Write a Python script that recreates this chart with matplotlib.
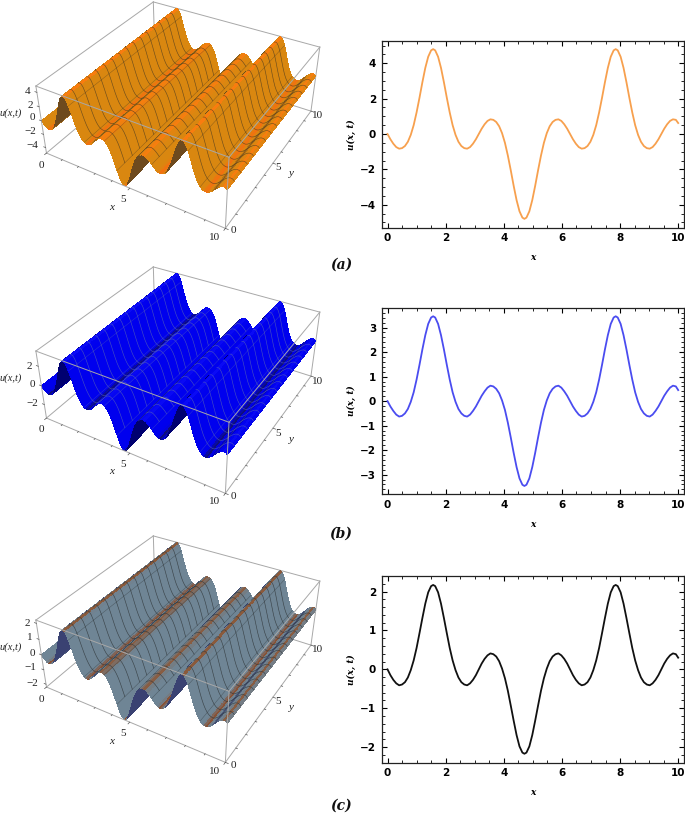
import numpy as np
import matplotlib
matplotlib.use("Agg")
import matplotlib.pyplot as plt
from matplotlib.colors import to_rgb
from matplotlib.ticker import MultipleLocator

x_values = [0,.1,.2,.3,.4,.5,.6,.7,.8,.9,1.0,1.1,1.2,1.3,1.4,1.5,1.57,
            1.64,1.74,1.84,1.94,2.04,2.14,2.24,2.34,2.44,2.54,2.64,2.74,2.84,2.94,3.04,3.14,
            3.24,3.34,3.44,3.54,3.64,3.74,3.84,3.94,4.04,4.14,4.24,4.34,4.44,4.54,4.64,4.71,
            4.78,4.88,4.98,5.08,5.18,5.28,5.38,5.48,5.58,5.68,5.78,5.88,5.98,6.08,6.18,6.28,
            6.38,6.48,6.58,6.68,6.78,6.88,6.98,7.08,7.18,7.28,7.38,7.48,7.58,7.68,7.78,7.85,
            7.92,8.02,8.12,8.22,8.32,8.42,8.52,8.62,8.72,8.82,8.92,9.02,9.12,9.22,9.32,9.42,
            9.52,9.62,9.72,9.82,9.92,10.0]
u_a = [0,-.30,-.55,-.74,-.83,-.80,-.68,-.44,-.05,.50,1.22,2.05,2.93,3.74,4.37,4.73,4.80,
       4.73,4.37,3.74,2.93,2.05,1.22,.50,-.05,-.44,-.68,-.80,-.83,-.74,-.55,-.30,0,
       .30,.55,.74,.83,.80,.68,.44,.05,-.50,-1.22,-2.05,-2.93,-3.74,-4.37,-4.73,-4.80,
       -4.73,-4.37,-3.74,-2.93,-2.05,-1.22,-.50,.05,.44,.68,.80,.83,.74,.55,.30,0,
       -.30,-.55,-.74,-.83,-.80,-.68,-.44,-.05,.50,1.22,2.05,2.93,3.74,4.37,4.73,4.80,
       4.73,4.37,3.74,2.93,2.05,1.22,.50,-.05,-.44,-.68,-.80,-.83,-.74,-.55,-.30,0,
       .30,.55,.74,.83,.80,.62]
u_b = [0,-.22,-.40,-.55,-.63,-.60,-.50,-.32,-.03,.36,.88,1.48,2.11,2.69,3.15,3.41,3.46,
       3.41,3.15,2.69,2.11,1.48,.88,.36,-.03,-.32,-.50,-.60,-.63,-.55,-.40,-.22,0,
       .22,.40,.55,.63,.60,.50,.32,.03,-.36,-.88,-1.48,-2.11,-2.69,-3.15,-3.41,-3.46,
       -3.41,-3.15,-2.69,-2.11,-1.48,-.88,-.36,.03,.32,.50,.60,.63,.55,.40,.22,0,
       -.22,-.40,-.55,-.63,-.60,-.50,-.32,-.03,.36,.88,1.48,2.11,2.69,3.15,3.41,3.46,
       3.41,3.15,2.69,2.11,1.48,.88,.36,-.03,-.32,-.50,-.60,-.63,-.55,-.40,-.22,0,
       .22,.40,.55,.63,.60,.45]
u_c = [0,-.15,-.27,-.36,-.41,-.39,-.33,-.21,-.02,.23,.55,.93,1.32,1.69,1.98,2.14,2.17,
       2.14,1.98,1.69,1.32,.93,.55,.23,-.02,-.21,-.33,-.39,-.41,-.36,-.27,-.15,0,
       .15,.27,.36,.41,.39,.33,.21,.02,-.23,-.55,-.93,-1.32,-1.69,-1.98,-2.14,-2.17,
       -2.14,-1.98,-1.69,-1.32,-.93,-.55,-.23,.02,.21,.33,.39,.41,.36,.27,.15,0,
       -.15,-.27,-.36,-.41,-.39,-.33,-.21,-.02,.23,.55,.93,1.32,1.69,1.98,2.14,2.17,
       2.14,1.98,1.69,1.32,.93,.55,.23,-.02,-.21,-.33,-.39,-.41,-.36,-.27,-.15,0,
       .15,.27,.36,.41,.39,.30]

z_labels_a = ["4", "2", "0", "\u22122", "\u22124"]
z_labels_b = ["2", "0", "\u22122"]
z_labels_c = ["2", "1", "0", "\u22121", "\u22122"]
z_ticks_a = [4, 2, 0, -2, -4]
z_ticks_b = [2, 0, -2]
z_ticks_c = [2, 1, 0, -1, -2]
panel_labels = ["a", "b", "c"]

W, H = 685, 815
SERIF = "Liberation Serif"
fig = plt.figure(figsize=(W / 100, H / 100), dpi=100)

Z_POS_A = [(28, 91), (30, 105), (32, 118), (30, 132), (32, 145)]
Z_POS_B = [(29, 101), (32, 120), (32, 139)]
Z_POS_C = [(27, 89), (30, 104), (32, 119), (30, 134), (32, 149)]
BASE_POS = [("0", 41, 165), ("5", 123, 199), ("10", 215, 237),
            ("0", 233, 231), ("5", 278, 168), ("10", 318, 116)]


def px_axes(l, t, r, b, **kw):
    return fig.add_axes([l / W, 1 - b / H, (r - l) / W, (b - t) / H], **kw)


def visible_mask(x, z1, zrange):
    """True where a point of the cross-section is not hidden by a nearer ridge."""
    h = z1 * 4.0 / (2 * zrange)
    sight = 1.38
    vis = np.ones(len(x), dtype=bool)
    for i in range(len(x)):
        later = x > x[i]
        if later.any() and np.any(h[later] - (x[later] - x[i]) * sight > h[i] + 0.01):
            vis[i] = False
    return vis


def surface(top, u, zticks, zlabels, zpos, zrange, flat_hi, flat_lo, slope, rise, mesh, mesh_alpha):
    side = 400
    cx, cy = 179, top + 105
    ax = px_axes(cx - side / 2, cy - side / 2, cx + side / 2, cy + side / 2,
                 projection="3d", computed_zorder=False)
    ax.patch.set_alpha(0)
    x = np.array(x_values)
    z1 = np.array(u)
    peak = z1.max()
    ys = np.linspace(0, 10, 31)
    X, Y = np.meshgrid(x, ys)
    Z = np.tile(z1, (len(ys), 1))
    s = np.gradient(z1, x) * 4.8 / peak
    flat = np.exp(-(s / 1.2) ** 2)
    back = np.clip((s - 2.4) / 1.2, 0, 1)
    cols = np.zeros((len(x), 3))
    for i in range(len(x)):
        f = np.array(to_rgb(flat_hi if z1[i] > 0 else flat_lo))
        c = np.array(to_rgb(slope)) * (1 - flat[i]) + f * flat[i]
        cols[i] = c * (1 - back[i]) + np.array(to_rgb(rise)) * back[i]
    fc = np.tile(cols[None, :, :], (len(ys), 1, 1))
    ax.set_xlim(0, 10); ax.set_ylim(0, 10); ax.set_zlim(-zrange, zrange)
    ax.set_box_aspect((1, 1, 0.4), zoom=0.712)
    ax.view_init(elev=35, azim=-59.5)
    ax.set_proj_type("persp", focal_length=0.3)
    ax.set_axis_off()

    lo, hi = -zrange, zrange
    box = "#a8a8a8"
    for xs, yy, zz in [((0, 0), (0, 10), (hi, hi)), ((0, 10), (10, 10), (hi, hi)),
                       ((0, 0), (10, 10), (lo, hi)), ((10, 10), (10, 10), (lo, hi)),
                       ((0, 0), (0, 10), (lo, lo)), ((0, 10), (10, 10), (lo, lo)),
                       ((10, 10), (0, 10), (lo, lo))]:
        ax.plot(xs, yy, zz, color=box, lw=0.7, zorder=1)
    ax.plot_surface(X, Y, Z, facecolors=fc, shade=False, rstride=1, cstride=1,
                    linewidth=0, antialiased=False, zorder=2)
    shown = visible_mask(x, z1, zrange)
    vis = np.where(shown, z1, np.nan)
    for y0 in np.linspace(0, 10, 17)[1:-1]:
        ax.plot(x, np.full_like(x, y0), vis, color=mesh, lw=0.45, alpha=mesh_alpha, zorder=3)
    for x0 in np.linspace(0, 10, 17)[1:-1]:
        i = int(np.argmin(np.abs(x - x0)))
        if shown[i]:
            ax.plot((x[i], x[i]), (0, 10), (z1[i], z1[i]), color=mesh, lw=0.35,
                    alpha=mesh_alpha * 0.7, zorder=3)
    for xs, yy, zz in [((0, 10), (0, 0), (hi, hi)), ((10, 10), (0, 10), (hi, hi)),
                       ((0, 0), (0, 0), (lo, hi)), ((10, 10), (0, 0), (lo, hi)),
                       ((0, 10), (0, 0), (lo, lo))]:
        ax.plot(xs, yy, zz, color=box, lw=0.7, zorder=4)
    tc = "#555555"
    for v in range(0, 11):
        d = 0.14 if v % 5 == 0 else 0.08
        ax.plot((v, v), (0, -d), (lo, lo), color=tc, lw=0.5, zorder=4)
        ax.plot((10, 10 + d), (v, v), (lo, lo), color=tc, lw=0.5, zorder=4)
    for t in zticks:
        ax.plot((0, -0.12), (0, 0), (t, t), color=tc, lw=0.5, zorder=4)

    tx = dict(family=SERIF, ha="center", va="center", color="#222222")
    for lab, (px, py) in zip(zlabels, zpos):
        fig.text(px / W, 1 - (top + py) / H, lab, fontsize=8, **tx)
    for lab, px, py in BASE_POS:
        fig.text(px / W, 1 - (top + py) / H, lab, fontsize=8, **tx)
    fig.text(11 / W, 1 - (top + 113) / H, "u(x,t)", fontsize=7.5, style="italic", **tx)
    fig.text(112 / W, 1 - (top + 207) / H, "x", fontsize=8, style="italic", **tx)
    fig.text(291 / W, 1 - (top + 174) / H, "y", fontsize=8, style="italic", **tx)
    return ax


def profile(l, t, r, b, xlim, ylim, u, color, majy, miny):
    ax = px_axes(l, t, r, b)
    ax.plot(x_values, u, color=color, lw=1.3)
    ax.set_xlim(*xlim); ax.set_ylim(*ylim)
    ax.xaxis.set_major_locator(MultipleLocator(2))
    ax.xaxis.set_minor_locator(MultipleLocator(0.5))
    ax.yaxis.set_major_locator(MultipleLocator(majy))
    ax.yaxis.set_minor_locator(MultipleLocator(miny))
    ax.tick_params(which="major", direction="in", top=True, right=True, length=3.5, width=0.8, pad=4)
    ax.tick_params(which="minor", direction="in", top=True, right=True, length=2, width=0.6)
    for sp in ax.spines.values():
        sp.set_linewidth(0.9); sp.set_color("#222222")
    for lab in ax.get_xticklabels() + ax.get_yticklabels():
        lab.set_family("DejaVu Sans"); lab.set_fontweight("bold"); lab.set_fontsize(7.5)
    ax.set_xlabel("x", family="DejaVu Serif", weight="bold", style="italic", fontsize=6.5, labelpad=7)
    ax.set_ylabel("u(x, t)", family="DejaVu Serif", weight="bold", style="italic", fontsize=6.5, labelpad=3)
    return ax


surface(0, u_a, z_ticks_a, z_labels_a, Z_POS_A, 4.85, "#F97C0F", "#F4700F", "#D98710", "#6E4A1E", "#4a3a20", 0.75)
surface(265, u_b, z_ticks_b, z_labels_b, Z_POS_B, 3.5, "#0A0AF5", "#101070", "#0000EE", "#000070", "#5c6ab0", 0.7)
surface(534, u_c, z_ticks_c, z_labels_c, Z_POS_C, 2.2, "#8A5A3C", "#8A4E2E", "#6F8595", "#3A4272", "#2f3538", 0.8)

profile(381.7, 41, 684, 227.7, (-0.2, 10.2), (-5.3, 5.26), u_a, "#F7A04E", 2, 0.5)
profile(381.7, 307.7, 684, 494.3, (-0.2, 10.2), (-3.8, 3.81), u_b, "#4A4CF0", 1, 0.2)
profile(381.7, 576, 684, 762.7, (-0.2, 10.2), (-2.4, 2.4), u_c, "#111111", 1, 0.2)

for lab, y in zip(panel_labels, [265, 534, 806]):
    fig.text(341 / W, 1 - y / H, "(" + lab + ")", family="DejaVu Serif", style="italic",
             weight="bold", fontsize=10, ha="center", va="center", color="#111111")

fig.savefig("out.png", dpi=100)
